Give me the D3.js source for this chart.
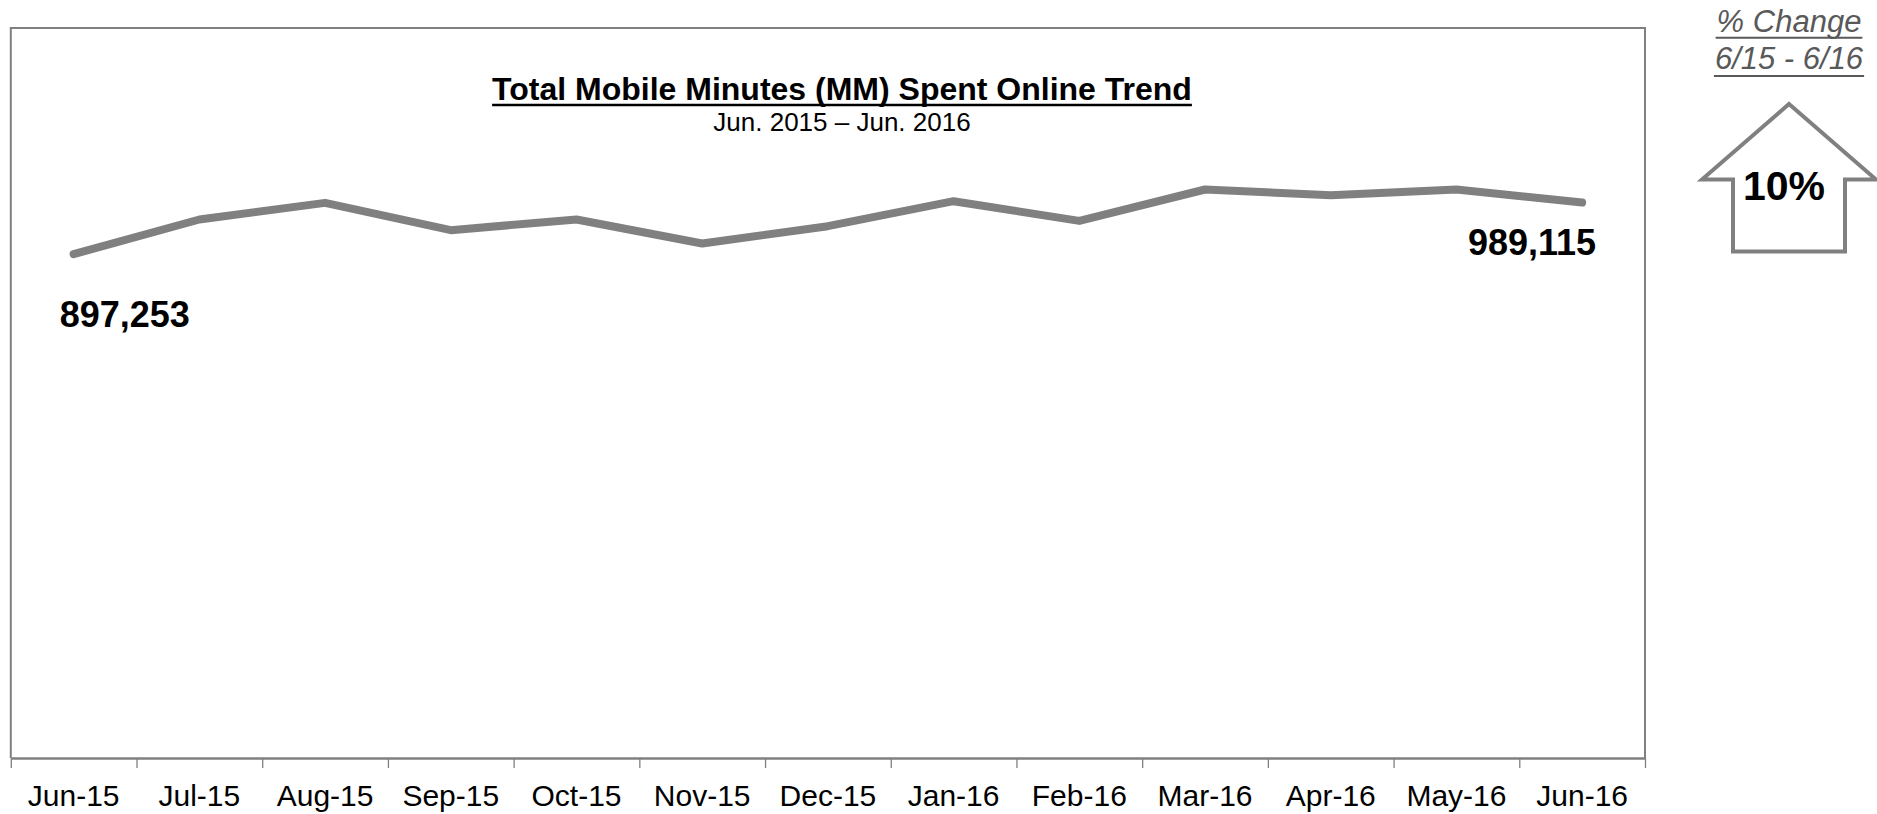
<!DOCTYPE html>
<html>
<head>
<meta charset="utf-8">
<script src="https://cdn.jsdelivr.net/npm/d3@7"></script>
<style>
  html, body { margin: 0; padding: 0; background: #fff; }
  svg { display: block; }
  text { font-family: "Liberation Sans", Arial, sans-serif; }
</style>
</head>
<body>
<svg id="chart" width="1877" height="814"></svg>
<script>
// ---- data ----
const months = ["Jun-15","Jul-15","Aug-15","Sep-15","Oct-15","Nov-15","Dec-15","Jan-16","Feb-16","Mar-16","Apr-16","May-16","Jun-16"];
const minutesMM = [897253, 959000, 988600, 940000, 959000, 916300, 947100, 991600, 956500, 1012400, 1002300, 1012400, 989115];
const titleText = "Total Mobile Minutes (MM) Spent Online Trend";
const subtitleText = "Jun. 2015 \u2013 Jun. 2016";
const changeHeader = ["% Change", "6/15 - 6/16"];
const changeValue = ["10%"];
const yDomain = [0, 1300000];

// ---- layout ----
const svg = d3.select("#chart");
const plot = { left: 10.8, right: 1645, top: 28, bottom: 758 };
const gray = "#808080";

const x = d3.scaleBand().domain(months).range([plot.left, plot.right]).padding(0);
const xEdge = d3.scaleLinear().domain([0, months.length]).range([plot.left, plot.right]);
const y = d3.scaleLinear().domain(yDomain).range([plot.bottom, plot.top]);
const cx = d => x(d) + x.bandwidth() / 2;

// frame (left, top, right)
svg.append("path")
  .attr("d", `M${plot.left},${plot.bottom} V${plot.top} H${plot.right} V${plot.bottom}`)
  .attr("fill", "none").attr("stroke", gray).attr("stroke-width", 2);

// tick marks between categories
const tickAxis = d3.axisBottom(xEdge)
  .tickValues(d3.range(months.length + 1))
  .tickFormat("").tickSize(10).tickSizeOuter(0);
const gt = svg.append("g").attr("transform", `translate(0,${plot.bottom})`).call(tickAxis);
gt.select(".domain").attr("stroke", gray).attr("stroke-width", 2.5);
gt.selectAll(".tick line").attr("stroke", gray).attr("stroke-width", 1.3);

// category labels
const labelAxis = d3.axisBottom(x).tickSize(0).tickPadding(27);
const gl = svg.append("g").attr("transform", `translate(0,${plot.bottom})`).call(labelAxis);
gl.select(".domain").remove();
gl.selectAll(".tick text")
  .attr("font-family", "'Liberation Sans', Arial, sans-serif")
  .attr("font-size", 30).attr("fill", "#000");

// line
const line = d3.line().x((d, i) => cx(months[i])).y(d => y(d));
svg.append("path")
  .datum(minutesMM)
  .attr("d", line)
  .attr("fill", "none").attr("stroke", gray).attr("stroke-width", 8)
  .attr("stroke-linecap", "round").attr("stroke-linejoin", "round");

// end labels
const fmt = d3.format(",");
const last = minutesMM.length - 1;
svg.append("text")
  .attr("x", cx(months[0]) - 14).attr("y", y(minutesMM[0]) + 73)
  .attr("font-size", 36).attr("font-weight", "bold").attr("fill", "#000")
  .text(fmt(minutesMM[0]));
svg.append("text")
  .attr("x", cx(months[last]) + 14).attr("y", y(minutesMM[last]) + 52)
  .attr("text-anchor", "end")
  .attr("font-size", 36).attr("font-weight", "bold").attr("fill", "#000")
  .text(fmt(minutesMM[last]));

// title
const titleX = 842;
const t = svg.append("text")
  .attr("x", titleX).attr("y", 99.5).attr("text-anchor", "middle")
  .attr("font-size", 32).attr("font-weight", "bold").attr("fill", "#000")
  .text(titleText);
const tw = t.node().getComputedTextLength();
svg.append("line")
  .attr("x1", titleX - tw / 2).attr("x2", titleX + tw / 2)
  .attr("y1", 105).attr("y2", 105)
  .attr("stroke", "#000").attr("stroke-width", 2.5);
svg.append("text")
  .attr("x", titleX).attr("y", 130.5).attr("text-anchor", "middle")
  .attr("font-size", 26).attr("fill", "#000")
  .text(subtitleText);

// change header (right)
const panelX = 1789;
const headerColor = "#595959";
const headerY = [31.7, 68.5];
const headerUL = [37.8, 76];
changeHeader.forEach((s, i) => {
  const tt = svg.append("text")
    .attr("x", panelX).attr("y", headerY[i]).attr("text-anchor", "middle")
    .attr("font-size", 31).attr("font-style", "italic").attr("fill", headerColor)
    .text(s);
  const w = tt.node().getComputedTextLength();
  svg.append("line")
    .attr("x1", panelX - w / 2 - 1).attr("x2", panelX + w / 2 + 1)
    .attr("y1", headerUL[i]).attr("y2", headerUL[i])
    .attr("stroke", headerColor).attr("stroke-width", 2);
});

// up arrow
const arrow = { tipY: 104, barbY: 179.5, bottomY: 251.5, halfHead: 87, halfShaft: 56 };
const ap = d3.path();
ap.moveTo(panelX, arrow.tipY);
ap.lineTo(panelX + arrow.halfHead, arrow.barbY);
ap.lineTo(panelX + arrow.halfShaft, arrow.barbY);
ap.lineTo(panelX + arrow.halfShaft, arrow.bottomY);
ap.lineTo(panelX - arrow.halfShaft, arrow.bottomY);
ap.lineTo(panelX - arrow.halfShaft, arrow.barbY);
ap.lineTo(panelX - arrow.halfHead, arrow.barbY);
ap.closePath();
svg.append("path").attr("d", ap.toString())
  .attr("fill", "#fff").attr("stroke", gray).attr("stroke-width", 4);
svg.append("text")
  .attr("x", panelX - 5).attr("y", 200).attr("text-anchor", "middle")
  .attr("font-size", 41).attr("font-weight", "bold").attr("fill", "#000")
  .text(changeValue[0]);
</script>
</body>
</html>
